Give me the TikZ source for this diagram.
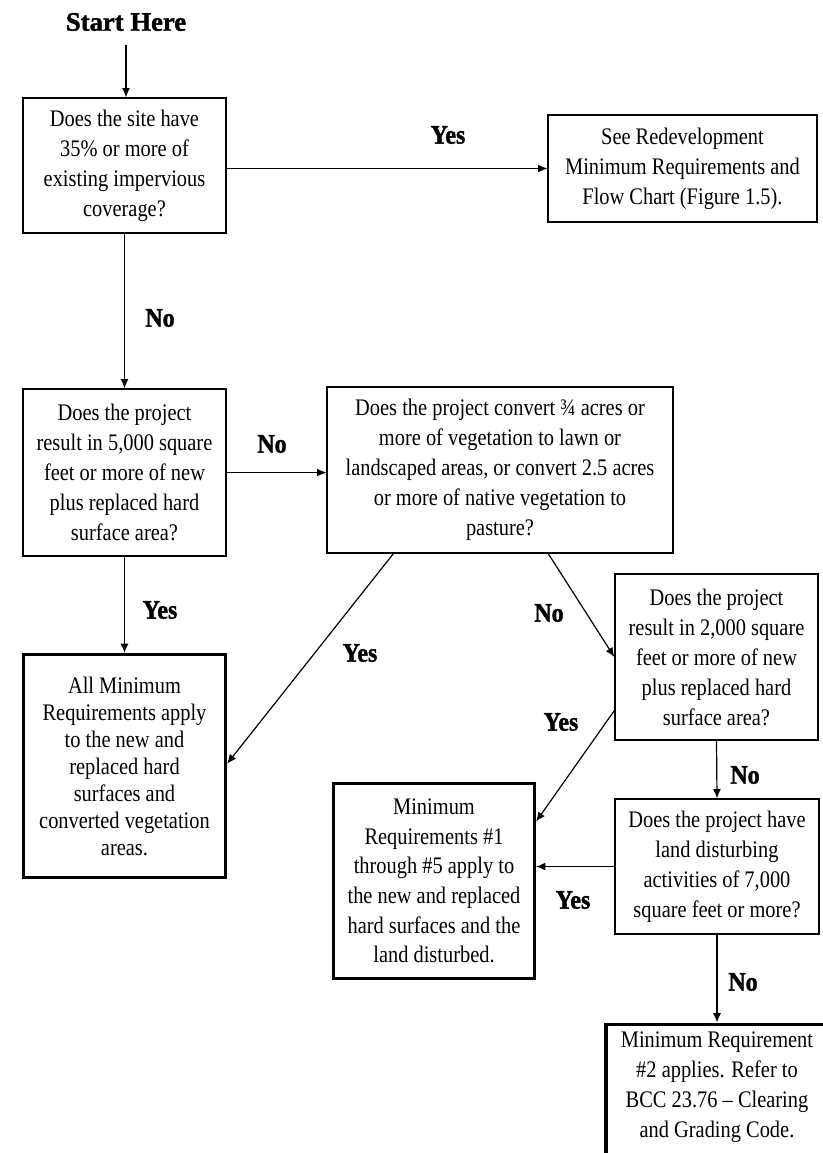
\documentclass[tikz,border=0pt]{standalone}
\usepackage{fontspec}
\setmainfont{Liberation Serif}[FakeStretch=0.86]
\newfontfamily\lblfont{Liberation Serif}[FakeStretch=0.9,BoldFeatures={FakeBold=1.4}]
\newfontfamily\startfont{Liberation Serif}[BoldFeatures={FakeBold=1.4}]
\usetikzlibrary{arrows.meta,calc}
\begin{document}
\begin{tikzpicture}[x=0.75pt,y=-0.75pt,
  every node/.style={inner sep=0pt,align=center},
  txt/.style={font={\fontsize{17.8}{22.5}\selectfont}},
  qbox/.style={txt,draw,line width=1pt},
  rbox/.style={txt,draw,line width=2.4pt},
  lbl/.style={font={\lblfont\bfseries\fontsize{20}{24}\selectfont}},
  conn/.style={line width=0.9pt,-{Latex[length=7pt,width=6pt]}}
]
\useasboundingbox (0,0) rectangle (823,1153);
\clip (0,0) rectangle (823,1153);

\node[font={\startfont\bfseries\fontsize{20}{24}\selectfont},inner ysep=10.5pt] (start) at (126,22) {Start Here};

\node[qbox,minimum width=152.25pt,minimum height=101.25pt] (b1) at (124.5,165.5)
 {Does the site have\\35\% or more of\\existing impervious\\coverage?};
\node[qbox,minimum width=201.75pt,minimum height=80.25pt] (redev) at (682.5,168.5)
 {See Redevelopment\\Minimum Requirements and\\Flow Chart (Figure 1.5).};
\node[qbox,minimum width=152.25pt,minimum height=125.25pt] (b2) at (124.5,472.5)
 {Does the project\\result in 5,000 square\\feet or more of new\\plus replaced hard\\surface area?};
\node[qbox,minimum width=259.5pt,minimum height=124.5pt] (b3) at (500,470)
 {Does the project convert ¾ acres or\\more of vegetation to lawn or\\landscaped areas, or convert 2.5 acres\\or more of native vegetation to\\pasture?};
\node[rbox,font={\fontsize{17.8}{20.25}\selectfont},minimum width=151.5pt,minimum height=167.25pt] (b4) at (124.5,766)
 {All Minimum\\Requirements apply\\to the new and\\replaced hard\\surfaces and\\converted vegetation\\areas.};
\node[qbox,minimum width=152.25pt,minimum height=124.5pt] (b5) at (716.5,657)
 {Does the project\\result in 2,000 square\\feet or more of new\\plus replaced hard\\surface area?};
\node[rbox,font={\fontsize{17.8}{22.2}\selectfont},minimum width=150.75pt,minimum height=146.25pt] (mr) at (434,881)
 {Minimum\\Requirements \#1\\through \#5 apply to\\the new and replaced\\hard surfaces and the\\land disturbed.};
\node[qbox,minimum width=153pt,minimum height=101.25pt] (b6) at (717,866.5)
 {Does the project have\\land disturbing\\activities of 7,000\\square feet or more?};
\node[rbox,anchor=north,minimum width=166.5pt,minimum height=120pt] (b7) at (717,1022.5) {};
\node[txt] (t7) at (717,1087)
 {Minimum Requirement\\\#2 applies. Refer to\\BCC 23.76 – Clearing\\and Grading Code.};

% labels
\node[lbl] (l1) at (448,135) {Yes};
\node[lbl] (l2) at (160,318) {No};
\node[lbl] (l3) at (272,444) {No};
\node[lbl] (l4) at (160,610) {Yes};
\node[lbl] (l5) at (360,653) {Yes};
\node[lbl] (l6) at (549,613) {No};
\node[lbl] (l7) at (561,722) {Yes};
\node[lbl] (l8) at (745,775) {No};
\node[lbl] (l9) at (573,900) {Yes};
\node[lbl] (l10) at (743,982) {No};

% connectors
\draw[conn] (start.south) -- (start.south |- b1.north);
\draw[conn] (b1.east |- redev.west) -- (redev.west);
\draw[conn] (b1.south) -- (b2.north);
\draw[conn] (b2.east) -- (b3.west |- b2.east);
\draw[conn] (b2.south) -- (b4.north);
\draw[conn] ($(b3.south west)!0.193!(b3.south east)$) -- ($(b4.north east)!0.49!(b4.south east)$);
\draw[conn] ($(b3.south west)!0.639!(b3.south east)$) -- (b5.west);
\draw[conn] ($(b5.south west)!0.18!(b5.north west)$) -- ($(mr.north east)!0.2!(mr.south east)$);
\draw[conn] (b5.south) -- (b6.north);
\draw[conn] (b6.west) -- (mr.east |- b6.west);
\draw[conn] (b6.south) -- (b7.north);
\end{tikzpicture}
\end{document}
